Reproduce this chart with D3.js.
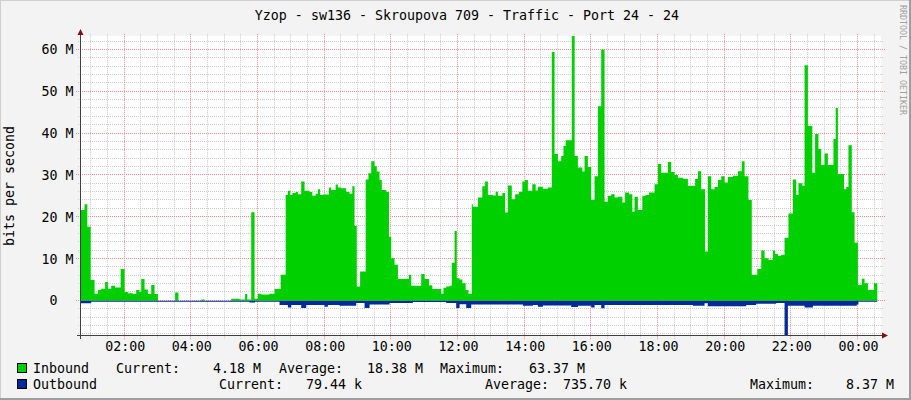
<!DOCTYPE html>
<html><head><meta charset="utf-8">
<script src="https://cdn.jsdelivr.net/npm/d3@7"></script>
<style>
html,body{margin:0;padding:0;background:#f3f3f3;}
text{font-family:"DejaVu Sans Mono",monospace;white-space:pre;}
</style>
</head><body>
<svg id="chart" width="911" height="400"></svg>
<script>
// ---------- data (values in M bits per second) ----------
const title = "Yzop - sw136 - Skroupova 709 - Traffic - Port 24 - 24";
const yAxisTitle = "bits per second";
const watermark = "RRDTOOL / TOBI OETIKER";

const inTime = ["00:40","00:49","00:54","01:00","01:07","01:13","01:19","01:26","01:31","01:37","01:44","01:54","02:01","02:07","02:16","02:22","02:28","02:31","02:37","02:43","02:49","02:55","03:01","03:32","03:38","04:19","04:25","05:13","05:28","05:38","05:42","05:49","05:55","06:01","06:07","06:22","06:31","06:42","06:51","06:55","06:59","07:03","07:09","07:13","07:19","07:25","07:34","07:39","07:45","07:49","07:53","07:58","08:09","08:13","08:21","08:25","08:31","08:40","08:46","08:51","08:55","08:59","09:05","09:15","09:20","09:25","09:31","09:35","09:40","09:44","09:52","09:57","10:01","10:07","10:13","10:33","10:37","10:55","11:01","11:09","11:15","11:31","11:35","11:40","11:46","11:50","11:55","11:59","12:04","12:09","12:15","12:20","12:26","12:28","12:37","12:45","12:50","12:55","13:04","13:09","13:13","13:21","13:26","13:31","13:38","13:44","13:51","13:57","14:02","14:07","14:15","14:21","14:25","14:34","14:43","14:50","14:55","15:01","15:07","15:11","15:15","15:26","15:31","15:37","15:45","15:49","15:55","16:01","16:07","16:13","16:19","16:25","16:31","16:37","16:43","16:49","16:57","17:02","17:09","17:15","17:19","17:25","17:33","17:39","17:45","17:55","18:01","18:07","18:19","18:25","18:31","18:37","18:46","18:55","19:08","19:13","19:19","19:26","19:31","19:37","19:43","19:49","19:55","20:01","20:07","20:16","20:25","20:32","20:37","20:44","20:50","21:00","21:07","21:13","21:20","21:28","21:32","21:37","21:43","21:49","21:56","22:04","22:10","22:14","22:21","22:25","22:31","22:39","22:44","22:50","22:55","23:01","23:07","23:17","23:21","23:25","23:36","23:40","23:44","23:50","23:55","00:01","00:08","00:13","00:19","00:30","00:36"];
const inVal = [21.7,23.1,17.7,5.0,1.7,2.6,2.9,4.5,2.9,3.6,3.2,7.6,2.1,1.8,1.6,2.6,2.1,5.2,2.7,1.6,3.8,1.6,0,2.0,0,0.3,0,0.5,0.3,1.6,0.3,21.2,0.5,1.7,1.5,1.7,2.8,6.2,25.3,26.3,25.3,25.8,26.0,25.5,28.5,26.3,26.0,25.1,25.6,26.7,25.3,25.4,27.1,26.5,27.8,27.1,26.9,26.0,25.6,27.4,17.9,3.4,7.0,29.0,30.5,33.4,32.2,30.9,28.9,26.5,26.0,15.3,10.2,8.6,5.2,6.2,3.6,6.4,5.2,3.7,2.8,1.7,3.1,3.4,3.6,9.1,16.7,5.4,5.1,4.2,2.6,1.7,23.1,22.5,24.7,27.4,28.5,25.3,25.2,26.1,25.1,25.8,21.1,27.6,24.3,25.5,26.1,28.5,28.9,26.3,27.9,26.4,27.3,26.8,27.1,59.5,35.1,33.4,34.6,37.0,38.4,63.37,34.6,31.9,30.9,34.6,32.0,24.1,29.8,46.5,60.1,23.7,25.1,25.5,24.7,24.9,23.5,25.9,25.5,21.3,24.9,21.7,25.1,25.3,25.9,27.9,32.7,30.6,33.2,30.8,30.1,29.4,29.2,27.5,29.1,31.0,26.7,11.8,29.8,26.7,27.2,28.9,29.8,28.3,29.6,29.9,31.0,33.4,29.8,24.1,6.2,7.6,12.0,10.2,9.8,12.0,11.2,10.8,11.0,15.1,20.9,29.0,25.3,28.1,27.5,56.3,41.8,30.6,39.9,36.3,32.5,35.2,32.5,38.7,46.1,30.3,26.7,27.2,37.2,21.2,13.9,3.8,5.3,4.2,2.6,4.18,4.18];

const outTime = ["00:40","01:01","05:46","05:56","06:40","06:55","07:01","07:19","07:28","08:01","08:07","08:28","08:58","09:13","09:22","09:58","10:40","11:40","11:58","12:04","12:16","12:25","13:58","14:16","14:25","14:34","15:25","15:37","16:01","16:07","16:19","16:25","19:04","19:25","19:31","20:40","20:58","21:34","21:49","21:55","22:25","22:40","23:59","00:02","00:36"];
const outVal = [0.6,0.2,0.4,0.2,1.0,1.6,1.0,1.7,1.0,1.4,1.0,1.2,0.5,1.7,0.9,0.5,0.3,0.5,1.7,0.8,1.7,0.9,1.2,1.0,1.4,1.1,1.5,1.2,1.6,1.0,1.8,1.0,1.2,0.6,1.3,1.0,0.7,0.5,8.37,1.2,1.6,1.2,0.9,0.2,0.2];

const yTicks = [0,10,20,30,40,50,60];
const seriesNames = ["Inbound","Outbound"];
const seriesColors = ["#00CF00","#002A97"];
const legendCurrent = ["4.18 M","79.44 k"];
const legendAverage = ["18.38 M","735.70 k"];
const legendMaximum = ["63.37 M","8.37 M"];

// ---------- layout ----------
const X0 = 81, X1 = 881, Y0 = 35.8, Y1 = 335.8;
const start = new Date(2024,0,1,0,42,36);
const end = new Date(+start + 86400000);

function parseSeq(times){
  let day = 0, prev = -1;
  return times.map(t => {
    const [h,m] = t.split(":").map(Number);
    const mm = h*60+m;
    if (mm < prev) day++;
    prev = mm;
    return new Date(2024,0,1+day,h,m);
  });
}
const inData = parseSeq(inTime).map((t,i)=>({t, v: inVal[i]}));
const outData = parseSeq(outTime).map((t,i)=>({t, v: -outVal[i]}));

const x = d3.scaleTime().domain([start,end]).range([X0,X1]);
const y = d3.scaleLinear().domain([-8.37,63.37]).range([Y1,Y0]);

const svg = d3.select("#chart");
svg.append("rect").attr("width",911).attr("height",400).attr("fill","#f3f3f3");
svg.append("rect").attr("x",X0).attr("y",Y0).attr("width",X1-X0).attr("height",Y1-Y0).attr("fill","#ffffff");

const px = v => Math.floor(v)+0.5;
const pyv = v => Math.round(y(v))-0.5;

// grid
const g = svg.append("g");
const minorT = d3.timeMinute.every(30).range(start,end).filter(t => !(t.getMinutes()===0 && t.getHours()%2===0));
const majorT = d3.timeHour.every(2).range(start,end).filter(t => t.getHours()%2===0);
const hv = d3.range(-8,64,2);
g.selectAll(".hmin").data(hv.filter(v=>v%10!==0)).join("line")
  .attr("x1",78).attr("x2",884).attr("y1",d=>pyv(d)).attr("y2",d=>pyv(d))
  .attr("stroke","#cccccc").attr("stroke-dasharray","1,1");
g.selectAll(".vmin").data(minorT).join("line")
  .attr("x1",d=>px(x(d))).attr("x2",d=>px(x(d))).attr("y1",Y0-2).attr("y2",339)
  .attr("stroke","#cccccc").attr("stroke-dasharray","1,1");
g.selectAll(".hmaj").data(yTicks).join("line")
  .attr("x1",76).attr("x2",885).attr("y1",d=>pyv(d)).attr("y2",d=>pyv(d))
  .attr("stroke","#f08c8c").attr("stroke-dasharray","1,1");
g.selectAll(".vmaj").data(majorT).join("line")
  .attr("x1",d=>px(x(d))).attr("x2",d=>px(x(d))).attr("y1",Y0-2).attr("y2",340)
  .attr("stroke","#f08c8c").attr("stroke-dasharray","1,1");

// areas
svg.append("clipPath").attr("id","clip").append("rect")
  .attr("x",X0).attr("y",Y0).attr("width",X1-X0).attr("height",Y1-Y0);
const area = d3.area().x(d=>x(d.t)).y0(y(0)).y1(d=>y(d.v)).curve(d3.curveStepAfter);
svg.append("path").datum(inData).attr("d",area).attr("fill",seriesColors[0]).attr("clip-path","url(#clip)");
svg.append("path").datum(outData).attr("d",area).attr("fill",seriesColors[1]).attr("clip-path","url(#clip)");

// axes
const axisColor = "#404040", arrowColor = "#7f1010";
svg.append("line").attr("x1",80.5).attr("x2",80.5).attr("y1",339).attr("y2",33).attr("stroke",axisColor);
svg.append("line").attr("x1",77).attr("x2",884).attr("y1",335.5).attr("y2",335.5).attr("stroke",axisColor);
svg.append("path").attr("d","M77.5,35 L83.5,35 L80.5,29 Z").attr("fill",arrowColor);
svg.append("path").attr("d","M882,332.5 L882,338.5 L888,335.5 Z").attr("fill",arrowColor);

// y tick labels
svg.selectAll(".yl").data(yTicks).join("text")
  .attr("x",73.5).attr("y",d=>y(d)+4.6).attr("text-anchor","end")
  .attr("font-size","13.3px").attr("fill","#000")
  .text(d => d===0 ? "0  " : d+" M");

// x tick labels
const fmt = d3.timeFormat("%H:%M");
svg.selectAll(".xl").data(majorT).join("text")
  .attr("x",d=>x(d)+1.2).attr("y",351).attr("text-anchor","middle")
  .attr("font-size","13.3px").attr("fill","#000").text(d=>fmt(d));

// title
svg.append("text").attr("x",467).attr("y",20).attr("text-anchor","middle")
  .attr("font-size","13.3px").attr("fill","#000").text(title);

// y axis title
svg.append("text").attr("transform","translate(14,186) rotate(-90)").attr("text-anchor","middle")
  .attr("font-size","13.3px").attr("fill","#000").text(yAxisTitle);

// watermark
svg.append("text").attr("transform","translate(900,5) rotate(90)").attr("text-anchor","start")
  .attr("font-size","8.3px").attr("fill","#a0a0a0").text(watermark);

// legend
const rowsY = [373, 389];
const curX = [116, 219], curEnd = [261, 362];
const avgX = [279, 485], avgEnd = [423, 627];
const maxX = [440, 750], maxEnd = [585, 894];
seriesNames.forEach((name,i) => {
  const by = rowsY[i];
  svg.append("rect").attr("x",17.5).attr("y",by-9.5).attr("width",9).attr("height",9)
    .attr("fill",seriesColors[i]).attr("stroke","#000");
  const T = (xx, s, anchor) => svg.append("text").attr("x",xx).attr("y",by)
    .attr("text-anchor",anchor).attr("font-size","13.3px").attr("fill","#000").text(s);
  T(33, name, "start");
  T(curX[i], "Current:", "start"); T(curEnd[i], legendCurrent[i], "end");
  T(avgX[i], "Average:", "start"); T(avgEnd[i], legendAverage[i], "end");
  T(maxX[i], "Maximum:", "start"); T(maxEnd[i], legendMaximum[i], "end");
});

// frame shading
svg.append("path").attr("d","M0,399 L0,0 L911,0").attr("stroke","#cfcfcf").attr("stroke-width",2).attr("fill","none");
svg.append("path").attr("d","M0,399 L910,399 L910,0").attr("stroke","#9e9e9e").attr("stroke-width",2).attr("fill","none");
</script>
</body></html>
